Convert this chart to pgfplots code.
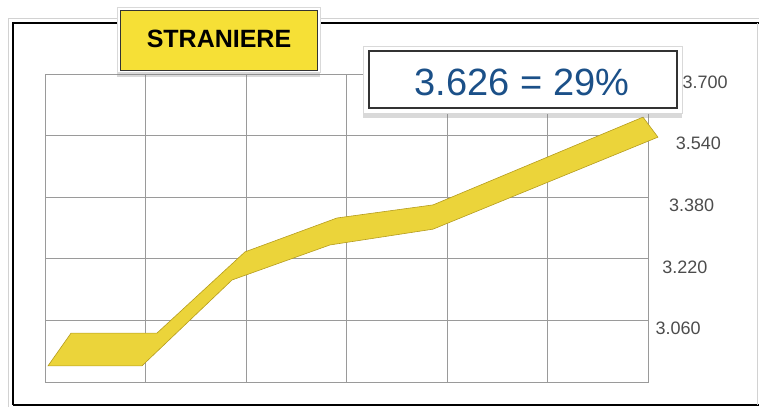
\documentclass[border=0pt]{standalone}
\usepackage{fontspec}
\setmainfont{Liberation Sans}
\usepackage{pgfplots}
\pgfplotsset{compat=1.18}
\usetikzlibrary{shadows}
\definecolor{ribbon}{HTML}{EBD43A}
\definecolor{ribbonedge}{HTML}{B59C1E}
\definecolor{titleyellow}{HTML}{F6E036}
\definecolor{valblue}{HTML}{1B5088}
\definecolor{gridgray}{HTML}{9A9A9A}
\begin{document}
\begin{tikzpicture}
\useasboundingbox (0pt,0pt) rectangle (759pt,-407pt);
% outer frame
\draw[gray!35, line width=1pt] (8pt,-407pt) -- (8pt,-18pt) -- (759pt,-18pt);
\draw[black, line width=2pt] (13pt,-405pt) -- (13pt,-23pt) -- (759pt,-23pt);
\draw[black, line width=2pt] (13pt,-405pt) -- (759pt,-405pt);
\draw[gray!35, line width=1pt] (757pt,-23pt) -- (757pt,-405pt);
\begin{axis}[at={(45pt,-382pt)}, anchor=south west, scale only axis,
  width=603pt, height=308pt,
  xmin=0, xmax=6, ymin=2900, ymax=3700,
  xtick={0,...,6}, xticklabels={},
  ytick={3060,3220,3380,3540,3700},
  yticklabel pos=right,
  grid=major,
  major grid style={gridgray, line width=1pt},
  axis line style={gridgray, line width=1pt},
  tick style={draw=none},
  yticklabel style={font=\fontsize{18}{18}\selectfont, text=black!70, xshift={4pt+\ticknum*6.75pt}, yshift=-8pt},
  /pgf/number format/1000 sep={.},
  /pgf/number format/assume math mode=true,
  clip=false]
\addplot[fill=ribbon, draw=ribbonedge, line width=0.6pt] coordinates {
 (0.030,2942) (0.259,3027) (1.114,3027) (1.990,3238) (2.905,3326) (3.861,3360) (5.950,3588)
 (6.099,3536) (3.861,3297) (2.836,3256) (1.861,3165) (0.965,2942)} -- cycle;
\end{axis}
% title box
\draw[fill=white, draw=gray!30, drop shadow={shadow xshift=0pt, shadow yshift=-5pt, opacity=0.3}] (117pt,-7pt) rectangle (320pt,-72pt);
\draw[fill=titleyellow, draw=black!80, line width=1pt] (120pt,-10pt) rectangle (317pt,-70pt);
\node[font=\fontsize{25}{25}\selectfont\bfseries] at (219pt,-39pt) {STRANIERE};
% value box
\draw[fill=white, draw=gray!30, drop shadow={shadow xshift=0pt, shadow yshift=-5pt, opacity=0.3}] (363pt,-46pt) rectangle (682pt,-113pt);
\draw[fill=white, draw=black!80, line width=1.2pt] (369pt,-51pt) rectangle (677pt,-108pt);
\node[text=valblue, font=\fontsize{38}{38}\selectfont] at (522pt,-82pt) {3.626 = 29\%};
\end{tikzpicture}
\end{document}
